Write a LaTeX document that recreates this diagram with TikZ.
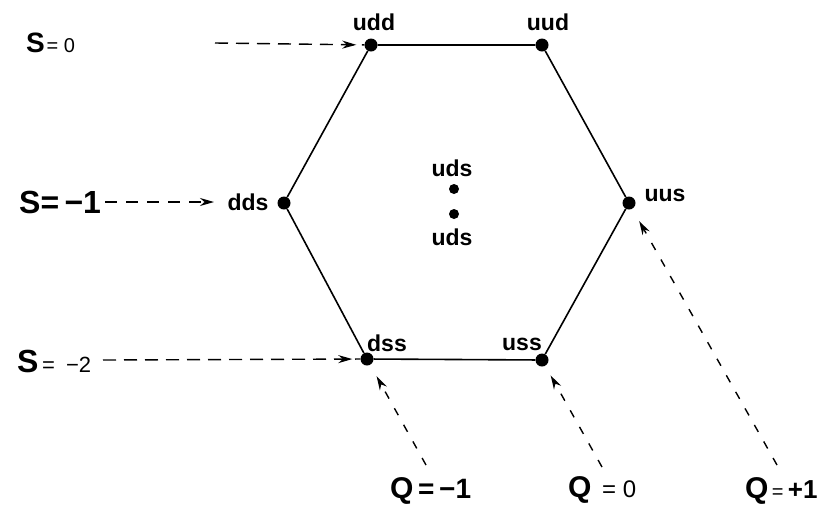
\documentclass[tikz,border=0pt]{standalone}
\usepackage{fontspec}
\setmainfont{Liberation Sans}
\usetikzlibrary{arrows.meta,decorations.markings}
\begin{document}
\begin{tikzpicture}[x=1pt,y=-1pt,
  dot/.style={circle,fill=black,inner sep=0pt,minimum size=13pt},
  sdot/.style={circle,fill=black,inner sep=0pt,minimum size=10pt},
  ql/.style={font=\fontsize{23}{23}\selectfont\bfseries,inner sep=0pt},
  hexedge/.style={line width=1.6pt},
  sarrow/.style={line width=1.4pt,dash pattern=on 13pt off 8pt,postaction=decorate,
    decoration={markings,mark=at position -8pt with {\arrow{Stealth[length=14pt,width=8pt]}}}},
  qarrow/.style={line width=1.4pt,dash pattern=on 8pt off 11pt,-{Stealth[length=14pt,width=8pt]}},
  lab/.style={inner sep=0pt,anchor=base west}]
\useasboundingbox (0,0) rectangle (828,507);
% vertices
\node[dot] (udd) at (371,45) {};
\node[dot] (uud) at (542,45) {};
\node[dot] (dds) at (284,203) {};
\node[dot] (uus) at (629,203) {};
\node[dot] (dss) at (367,359) {};
\node[dot] (uss) at (542,360) {};
\node[sdot] (c1) at (454,189) {};
\node[sdot] (c2) at (454,214) {};
% hexagon
\draw[hexedge] (udd) -- (uud) -- (uus) -- (uss) -- (dss) -- (dds) -- (udd);
% quark labels
\node[ql] (uddl) at (374,22) {udd};
\node[ql] (uudl) at (548,22) {uud};
\node[ql] (ddsl) at (248,202) {dds};
\node[ql] (uusl) at (665,195) {uus};
\node[ql] (uds1) at (452,168) {uds};
\node[ql] (uds2) at (452,237) {uds};
\node[ql] (dssl) at (387,343) {dss};
\node[ql] (ussl) at (522,344) {uss};
% S labels
\node[lab] (S0) at (26,52) {{\fontsize{28}{28}\selectfont\bfseries S}\,{\fontsize{20}{20}\selectfont = 0}};
\node[lab] (S1) at (19,213) {\fontsize{32}{32}\selectfont\bfseries S=\,−1};
\node[lab] (S2) at (17,372) {{\fontsize{32}{32}\selectfont\bfseries S}{\fontsize{22}{22}\selectfont\,=\enspace−2}};
% Q labels
\node[lab] (Q1) at (390,498) {{\fontsize{30}{30}\selectfont\bfseries Q}{\fontsize{28}{28}\selectfont\bfseries\,=\,−1}};
\node[lab] (Q0) at (568,497) {{\fontsize{30}{30}\selectfont\bfseries Q}{\fontsize{24}{24}\selectfont\, = 0}};
\node[lab] (Qp) at (745,498) {{\fontsize{30}{30}\selectfont\bfseries Q}{\fontsize{20}{20}\selectfont\,=}{\fontsize{26}{26}\selectfont\bfseries\,+1}};
% S arrows
\coordinate (s0s) at (215,43);
\draw[sarrow] (s0s) -- (udd);
\coordinate (s1s) at (105,202);
\coordinate (s1e) at (214,202);
\draw[line width=1.4pt,dash pattern=on 12pt off 9pt,-{Stealth[length=14pt,width=8pt]}] (s1s) -- (s1e);
\coordinate (s2s) at (103,360);
\draw[sarrow] (s2s) -- (dss);
% Q arrows
\coordinate (q1s) at (426,465);
\coordinate (q0s) at (602,467);
\coordinate (qps) at (777,465);
\draw[qarrow,shorten >=13pt] (q1s) -- (dss);
\draw[qarrow,shorten >=11pt] (q0s) -- (uss);
\draw[qarrow,shorten >=14pt] (qps) -- (uus);
\end{tikzpicture}
\end{document}
